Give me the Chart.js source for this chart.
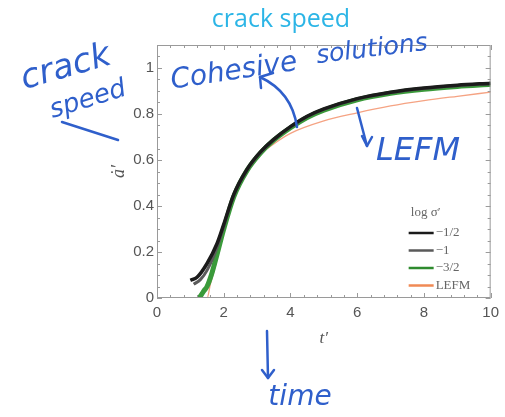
<html>
<head>
<meta charset="UTF-8">
<title>crack speed</title>
<script src="https://cdn.jsdelivr.net/npm/chart.js@4.4.0/dist/chart.umd.min.js"></script>
<style>
  body { margin: 0; background: #fff; }
  #wrap { width: 505px; height: 417px; }
</style>
</head>
<body>
<div id="wrap"><canvas id="myChart"></canvas></div>
<script>
// values
const tHalf = [1.0, 1.2, 1.5, 1.8, 2.0, 2.3, 2.7, 3.1, 3.5, 4.0, 4.5, 5.0, 6.0, 7.0, 8.0, 9.0, 10.0];
const aHalf = [0.077, 0.09, 0.15, 0.237, 0.32, 0.45, 0.56, 0.635, 0.69, 0.745, 0.79, 0.822, 0.867, 0.895, 0.913, 0.925, 0.934];
const tOne = [1.1, 1.3, 1.5, 1.8, 2.0, 2.3, 2.7, 3.1, 3.5, 4.0, 4.5, 5.0, 6.0, 7.0, 8.0, 9.0, 10.0];
const aOne = [0.06, 0.08, 0.12, 0.22, 0.31, 0.445, 0.557, 0.632, 0.688, 0.743, 0.788, 0.82, 0.865, 0.893, 0.911, 0.923, 0.932];
const tThreeHalf = [1.27, 1.4, 1.5, 1.65, 1.8, 2.0, 2.3, 2.7, 3.1, 3.5, 4.0, 4.5, 5.0, 6.0, 7.0, 8.0, 9.0, 10.0];
const aThreeHalf = [0.0, 0.03, 0.05, 0.11, 0.19, 0.3, 0.44, 0.555, 0.63, 0.686, 0.74, 0.785, 0.817, 0.862, 0.89, 0.908, 0.92, 0.929];
const tLefm = [0, 1.5, 1.6, 1.75, 1.9, 2.0, 2.3, 2.6, 3.0, 3.5, 4.0, 5.0, 6.0, 7.0, 8.0, 9.0, 10.0];
const aLefm = [0, 0, 0.06, 0.14, 0.24, 0.3, 0.44, 0.53, 0.61, 0.67, 0.716, 0.77, 0.805, 0.835, 0.858, 0.877, 0.895];
const legendLabels = ['\u22121/2', '\u22121', '\u22123/2', 'LEFM'];
const xTicks = [0, 2, 4, 6, 8, 10];
const yTicks = [0, 0.2, 0.4, 0.6, 0.8, 1];

const pts = (xs, ys) => xs.map((x, i) => ({x: x, y: ys[i]}));

const ink = '#2f5fcb';

// frame with inward ticks, like the original plot
const framePlugin = {
  id: 'frame',
  afterDatasetsDraw(chart) {
    const {ctx, chartArea: a, scales: {x, y}} = chart;
    ctx.save();
    ctx.strokeStyle = '#9a9a9a';
    ctx.lineWidth = 1;
    ctx.strokeRect(a.left + 0.5, a.top + 0.5, a.right - a.left - 1, a.bottom - a.top - 1);
    ctx.beginPath();
    for (let v = 0; v <= 10.001; v += 0.4) {
      const px = Math.round(x.getPixelForValue(v)) + 0.5;
      const major = Math.abs(v / 2 - Math.round(v / 2)) < 0.01;
      const len = major ? 5 : 3;
      ctx.moveTo(px, a.bottom); ctx.lineTo(px, a.bottom - len);
      ctx.moveTo(px, a.top); ctx.lineTo(px, a.top + len);
    }
    for (let v = 0; v <= 1.1; v += 0.05) {
      const py = Math.round(y.getPixelForValue(v)) + 0.5;
      const major = Math.abs(v / 0.2 - Math.round(v / 0.2)) < 0.01;
      const len = major ? 5 : 3;
      ctx.moveTo(a.left, py); ctx.lineTo(a.left + len, py);
      ctx.moveTo(a.right, py); ctx.lineTo(a.right - len, py);
    }
    ctx.stroke();
    ctx.restore();
  }
};

// legend box in the lower right corner of the plot
const legendPlugin = {
  id: 'cornerLegend',
  afterDatasetsDraw(chart) {
    const {ctx, chartArea: a} = chart;
    ctx.save();
    ctx.fillStyle = '#666';
    ctx.font = '13px "Liberation Serif"';
    ctx.textAlign = 'center';
    ctx.textBaseline = 'middle';
    ctx.fillText('log \u03c3\u2032', a.right - 65, a.bottom - 85);
    ctx.textAlign = 'left';
    chart.data.datasets.forEach((ds, i) => {
      const yy = a.bottom - 65 + i * 17.5;
      ctx.strokeStyle = ds.legendColor;
      ctx.lineWidth = 2.5;
      ctx.beginPath();
      ctx.moveTo(a.right - 82, yy);
      ctx.lineTo(a.right - 57, yy);
      ctx.stroke();
      ctx.fillText(legendLabels[i], a.right - 55, yy);
    });
    ctx.restore();
  }
};

// title and the hand written notes
const notesPlugin = {
  id: 'notes',
  afterDraw(chart) {
    const ctx = chart.ctx;
    ctx.save();
    ctx.fillStyle = '#2cb5e6';
    ctx.font = '25px "Open Sans"';
    ctx.textAlign = 'center';
    ctx.textBaseline = 'middle';
    ctx.fillText('crack speed', 281, 20);

    ctx.fillStyle = ink;
    ctx.strokeStyle = ink;
    ctx.lineWidth = 2.5;
    ctx.lineCap = 'round';
    ctx.lineJoin = 'round';
    const word = (t, x, y, size, rot) => {
      ctx.save();
      ctx.translate(x, y);
      ctx.rotate(rot);
      ctx.font = 'italic ' + size + 'px "DejaVu Sans"';
      ctx.fillText(t, 0, 0);
      ctx.restore();
    };
    word('crack', 66, 68, 34, -0.28);
    word('speed', 88, 100, 26, -0.3);
    word('Cohesive', 234, 72, 28, -0.15);
    word('solutions', 372, 50, 25, -0.12);
    word('LEFM', 418, 152, 32, 0);
    word('time', 300, 398, 28, 0);

    const line = (p) => {
      ctx.beginPath();
      ctx.moveTo(p[0][0], p[0][1]);
      for (let i = 1; i < p.length; i++) ctx.lineTo(p[i][0], p[i][1]);
      ctx.stroke();
    };
    line([[62, 122], [118, 140]]);
    ctx.beginPath();
    ctx.moveTo(297, 127);
    ctx.quadraticCurveTo(292, 92, 260, 77);
    ctx.stroke();
    line([[273, 73], [260, 77], [261, 88]]);
    line([[357, 108], [367, 146]]);
    line([[362, 136], [367, 146], [372, 137]]);
    line([[267, 331], [268, 378]]);
    line([[262, 370], [268, 378], [274, 370]]);
    ctx.restore();
  }
};

const ctx = document.getElementById('myChart').getContext('2d');
const chart = new Chart(ctx, {
  type: 'line',
  data: {
    datasets: [
      { label: legendLabels[0], data: pts(tHalf, aHalf), borderColor: '#1b1b1b', legendColor: '#1b1b1b', borderWidth: 3.5, order: 1 },
      { label: legendLabels[1], data: pts(tOne, aOne), borderColor: '#5a5a5a', legendColor: '#5a5a5a', borderWidth: 3, order: 2 },
      { label: legendLabels[2], data: pts(tThreeHalf, aThreeHalf), borderColor: '#3a9a3a', legendColor: '#2e8b2e', borderWidth: 5, order: 3 },
      { label: legendLabels[3], data: pts(tLefm, aLefm), borderColor: '#f5a383', legendColor: '#f08a55', borderWidth: 1.3, order: 4 }
    ]
  },
  options: {
    responsive: true,
    maintainAspectRatio: false,
    animation: false,
    layout: { padding: { left: 0, right: 8, top: 45, bottom: 0 } },
    elements: {
      point: { radius: 0 },
      line: { cubicInterpolationMode: 'monotone', fill: false }
    },
    plugins: {
      legend: { display: false },
      tooltip: { enabled: false }
    },
    scales: {
      x: {
        type: 'linear', min: 0, max: 10,
        afterFit: (s) => { s.height = 119; },
        afterBuildTicks: (s) => { s.ticks = xTicks.map(v => ({value: v})); },
        grid: { display: false, drawTicks: false, tickLength: 0 },
        border: { display: false },
        ticks: { padding: 6, color: '#555', font: { family: 'Liberation Sans', size: 15 } },
        title: { display: true, text: 't\u2032', color: '#555', padding: 68,
                 font: { family: 'Liberation Serif', style: 'italic', size: 17 } }
      },
      y: {
        type: 'linear', min: 0, max: 1.1,
        afterFit: (s) => { s.width = 157; },
        afterBuildTicks: (s) => { s.ticks = yTicks.map(v => ({value: v})); },
        grid: { display: false, drawTicks: false, tickLength: 0 },
        border: { display: false },
        ticks: { padding: 3, color: '#555', font: { family: 'Liberation Sans', size: 15 },
                 callback: (v) => String(+v.toFixed(1)) },
        title: { display: true, text: '\u0227\u2032', color: '#555', padding: 108,
                 font: { family: 'Liberation Serif', style: 'italic', size: 18 } }
      }
    }
  },
  plugins: [framePlugin, legendPlugin, notesPlugin]
});
</script>
</body>
</html>
